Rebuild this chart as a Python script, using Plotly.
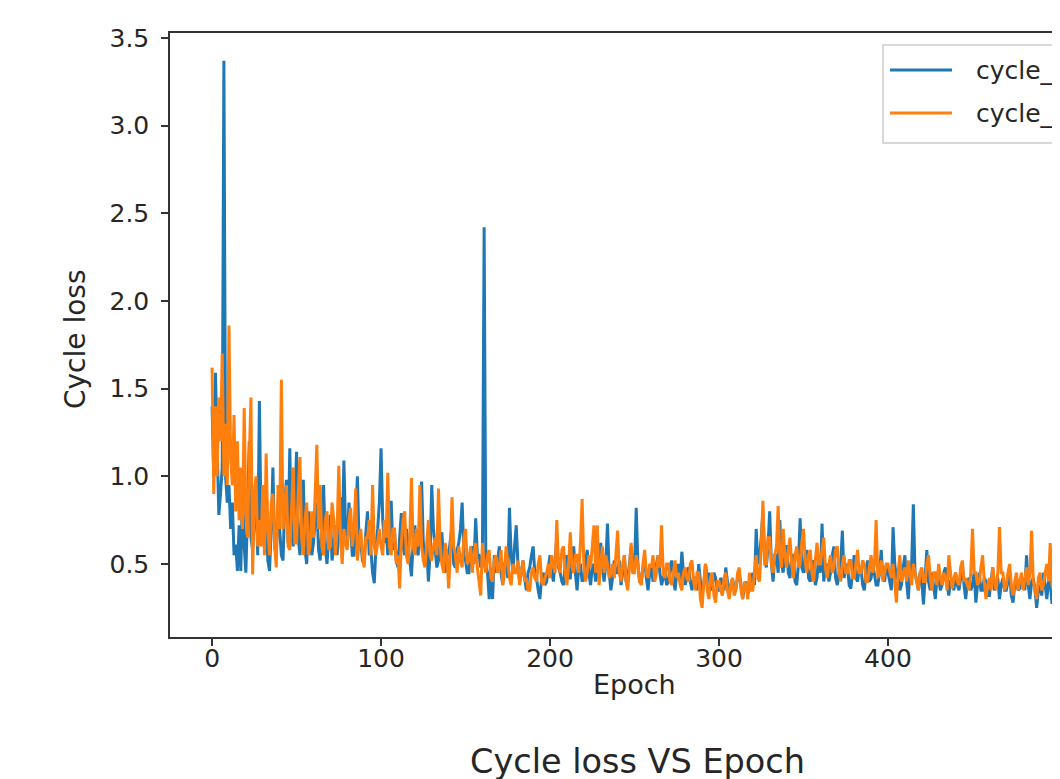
import plotly.graph_objects as go

epochs = list(range(0, 500))

cycle_A = [
    # 0-19
    1.40, 1.00, 1.59, 1.10, 0.78, 0.90, 1.05, 3.37, 1.00, 0.85,
    0.95, 0.70, 0.85, 0.55, 0.61, 0.46, 0.72, 0.46, 0.95, 0.60,
    # 20-39
    0.45, 0.80, 1.20, 0.65, 0.58, 0.75, 0.90, 0.55, 1.43, 0.70,
    0.62, 0.95, 0.80, 0.52, 0.46, 0.70, 1.05, 0.60, 0.55, 0.85,
    # 40-59
    0.70, 0.55, 0.52, 0.85, 0.98, 0.62, 1.16, 0.70, 0.60, 0.85,
    1.14, 0.65, 0.55, 0.78, 0.98, 0.58, 0.50, 0.80, 0.72, 0.55,
    # 60-79
    0.62, 0.75, 0.85, 0.58, 0.52, 0.70, 0.95, 0.60, 0.50, 0.65,
    0.78, 0.52, 0.60, 0.72, 0.55, 0.68, 0.88, 0.60, 1.09, 0.70,
    # 80-99
    0.60, 0.85, 0.72, 0.55, 0.55, 0.78, 1.00, 0.62, 0.62, 0.52,
    0.50, 0.68, 0.80, 0.55, 0.58, 0.45, 0.39, 0.60, 0.70, 0.85,
    # 100-119
    1.16, 0.75, 0.62, 0.70, 0.55, 0.65, 0.86, 0.58, 0.68, 0.52,
    0.48, 0.65, 0.79, 0.60, 0.55, 0.70, 0.60, 0.50, 0.43, 0.62,
    # 120-139
    0.72, 0.58, 0.55, 0.75, 0.97, 0.62, 0.50, 0.60, 0.40, 0.55,
    0.95, 0.70, 0.60, 0.48, 0.52, 0.65, 0.68, 0.50, 0.45, 0.58,
    # 140-159
    0.55, 0.62, 0.72, 0.50, 0.48, 0.58, 0.62, 0.70, 0.85, 0.55,
    0.52, 0.45, 0.45, 0.58, 0.60, 0.50, 0.76, 0.55, 0.55, 0.48,
    # 160-179
    0.55, 2.42, 0.50, 0.45, 0.30, 0.48, 0.30, 0.55, 0.45, 0.52,
    0.60, 0.45, 0.38, 0.50, 0.50, 0.42, 0.82, 0.55, 0.45, 0.60,
    # 180-199
    0.72, 0.50, 0.40, 0.45, 0.52, 0.42, 0.35, 0.45, 0.48, 0.55,
    0.60, 0.45, 0.42, 0.35, 0.30, 0.42, 0.45, 0.38, 0.40, 0.48,
    # 200-219
    0.55, 0.45, 0.40, 0.52, 0.65, 0.48, 0.45, 0.40, 0.38, 0.50,
    0.55, 0.42, 0.42, 0.55, 0.60, 0.45, 0.35, 0.48, 0.50, 0.40,
    # 220-239
    0.42, 0.50, 0.58, 0.45, 0.38, 0.48, 0.50, 0.40, 0.45, 0.55,
    0.62, 0.48, 0.40, 0.50, 0.73, 0.45, 0.35, 0.42, 0.52, 0.45,
    # 240-259
    0.45, 0.52, 0.38, 0.45, 0.55, 0.40, 0.42, 0.50, 0.60, 0.45,
    0.48, 0.82, 0.50, 0.40, 0.40, 0.48, 0.52, 0.42, 0.35, 0.45,
    # 260-279
    0.48, 0.40, 0.42, 0.50, 0.55, 0.45, 0.38, 0.42, 0.45, 0.38,
    0.40, 0.48, 0.52, 0.42, 0.35, 0.45, 0.50, 0.40, 0.57, 0.45,
    # 280-299
    0.38, 0.45, 0.48, 0.40, 0.35, 0.42, 0.42, 0.35, 0.50, 0.40,
    0.32, 0.38, 0.50, 0.42, 0.45, 0.35, 0.38, 0.45, 0.42, 0.35,
    # 300-319
    0.35, 0.42, 0.40, 0.35, 0.48, 0.40, 0.32, 0.38, 0.42, 0.35,
    0.36, 0.42, 0.45, 0.38, 0.30, 0.36, 0.40, 0.33, 0.35, 0.40,
    # 320-339
    0.45, 0.38, 0.70, 0.50, 0.55, 0.65, 0.80, 0.55, 0.48, 0.60,
    0.80, 0.50, 0.40, 0.55, 0.55, 0.45, 0.75, 0.50, 0.45, 0.60,
    # 340-359
    0.60, 0.45, 0.42, 0.55, 0.55, 0.40, 0.38, 0.50, 0.76, 0.48,
    0.45, 0.55, 0.58, 0.42, 0.40, 0.50, 0.52, 0.38, 0.42, 0.55,
    # 360-379
    0.45, 0.73, 0.40, 0.48, 0.50, 0.40, 0.45, 0.55, 0.60, 0.42,
    0.38, 0.45, 0.50, 0.69, 0.42, 0.48, 0.50, 0.38, 0.36, 0.45,
    # 380-399
    0.55, 0.42, 0.40, 0.48, 0.48, 0.38, 0.35, 0.45, 0.52, 0.40,
    0.42, 0.50, 0.45, 0.38, 0.38, 0.45, 0.58, 0.42, 0.40, 0.50,
    # 400-419
    0.45, 0.40, 0.35, 0.71, 0.50, 0.42, 0.42, 0.35, 0.38, 0.48,
    0.55, 0.40, 0.30, 0.45, 0.50, 0.84, 0.45, 0.40, 0.35, 0.45,
    # 420-439
    0.40, 0.27, 0.45, 0.58, 0.40, 0.35, 0.45, 0.38, 0.30, 0.42,
    0.42, 0.35, 0.38, 0.45, 0.48, 0.38, 0.32, 0.40, 0.40, 0.35,
    # 440-459
    0.45, 0.38, 0.35, 0.42, 0.50, 0.38, 0.30, 0.40, 0.42, 0.35,
    0.38, 0.45, 0.28, 0.38, 0.45, 0.35, 0.35, 0.42, 0.40, 0.32,
    # 460-479
    0.32, 0.40, 0.48, 0.35, 0.38, 0.42, 0.30, 0.38, 0.42, 0.35,
    0.35, 0.40, 0.45, 0.32, 0.28, 0.38, 0.40, 0.35, 0.36, 0.42,
    # 480-499
    0.40, 0.35, 0.55, 0.38, 0.30, 0.40, 0.42, 0.35, 0.25, 0.35,
    0.38, 0.32, 0.45, 0.38, 0.30, 0.40, 0.40, 0.28, 0.28, 0.35,
]

cycle_B = [
    # 0-19
    1.62, 0.90, 1.40, 1.00, 1.45, 1.20, 1.70, 1.00, 1.30, 0.95,
    1.86, 1.10, 0.95, 1.35, 0.80, 1.20, 0.75, 1.05, 0.70, 1.39,
    # 20-39
    0.80, 0.65, 1.10, 1.45, 0.44, 0.90, 1.00, 0.60, 0.75, 0.60,
    0.95, 0.55, 1.13, 0.70, 0.55, 0.85, 0.90, 0.60, 0.48, 0.95,
    # 40-59
    0.70, 1.55, 0.70, 0.85, 0.95, 0.60, 0.58, 0.80, 1.05, 0.62,
    0.62, 0.90, 1.11, 0.65, 0.55, 0.75, 0.85, 0.55, 0.60, 0.80,
    # 60-79
    0.65, 0.90, 1.18, 0.70, 0.95, 0.60, 0.55, 0.75, 0.80, 0.58,
    0.60, 0.85, 0.75, 0.55, 0.70, 1.06, 0.65, 0.50, 0.70, 0.62,
    # 80-99
    0.58, 0.75, 0.82, 0.60, 0.70, 0.93, 0.52, 0.62, 0.70, 0.55,
    0.48, 0.65, 0.65, 0.75, 0.55, 0.95, 0.60, 0.55, 0.62, 0.70,
    # 100-119
    0.60, 0.55, 0.75, 0.65, 1.02, 0.60, 0.55, 0.70, 0.70, 0.50,
    0.55, 0.36, 0.62, 0.75, 0.80, 0.55, 0.50, 0.65, 0.99, 0.60,
    # 120-139
    0.55, 0.70, 0.60, 0.95, 0.60, 0.52, 0.48, 0.65, 0.75, 0.55,
    0.52, 0.60, 0.65, 0.55, 0.93, 0.60, 0.50, 0.45, 0.62, 0.55,
    # 140-159
    0.36, 0.55, 0.88, 0.60, 0.55, 0.45, 0.60, 0.52, 0.48, 0.65,
    0.70, 0.50, 0.52, 0.60, 0.45, 0.55, 0.62, 0.48, 0.40, 0.32,
    # 160-179
    0.62, 0.50, 0.45, 0.55, 0.58, 0.42, 0.40, 0.52, 0.55, 0.45,
    0.48, 0.58, 0.38, 0.45, 0.60, 0.50, 0.42, 0.38, 0.50, 0.45,
    # 180-199
    0.45, 0.52, 0.38, 0.45, 0.52, 0.40, 0.42, 0.35, 0.35, 0.45,
    0.48, 0.42, 0.40, 0.50, 0.55, 0.40, 0.38, 0.42, 0.45, 0.50,
    # 200-219
    0.42, 0.55, 0.50, 0.45, 0.75, 0.50, 0.45, 0.58, 0.60, 0.45,
    0.38, 0.50, 0.68, 0.48, 0.45, 0.55, 0.55, 0.45, 0.62, 0.87,
    # 220-239
    0.50, 0.40, 0.45, 0.55, 0.48, 0.58, 0.72, 0.45, 0.72, 0.38,
    0.50, 0.60, 0.45, 0.55, 0.50, 0.42, 0.45, 0.50, 0.42, 0.55,
    # 240-259
    0.69, 0.45, 0.40, 0.50, 0.55, 0.40, 0.35, 0.48, 0.62, 0.45,
    0.45, 0.55, 0.50, 0.40, 0.38, 0.50, 0.58, 0.45, 0.42, 0.50,
    # 260-279
    0.48, 0.55, 0.40, 0.45, 0.55, 0.48, 0.72, 0.45, 0.42, 0.50,
    0.50, 0.40, 0.38, 0.45, 0.52, 0.42, 0.45, 0.38, 0.35, 0.45,
    # 280-299
    0.48, 0.42, 0.40, 0.50, 0.52, 0.40, 0.35, 0.45, 0.45, 0.30,
    0.25, 0.40, 0.50, 0.35, 0.30, 0.42, 0.45, 0.32, 0.28, 0.40,
    # 300-319
    0.40, 0.35, 0.32, 0.42, 0.45, 0.35, 0.30, 0.38, 0.42, 0.32,
    0.35, 0.45, 0.48, 0.35, 0.30, 0.40, 0.38, 0.30, 0.45, 0.35,
    # 320-339
    0.35, 0.45, 0.55, 0.42, 0.40, 0.60, 0.86, 0.50, 0.50, 0.65,
    0.65, 0.50, 0.45, 0.55, 0.60, 0.83, 0.55, 0.48, 0.70, 0.55,
    # 340-359
    0.48, 0.58, 0.65, 0.50, 0.42, 0.55, 0.60, 0.48, 0.50, 0.62,
    0.70, 0.52, 0.45, 0.55, 0.58, 0.45, 0.40, 0.52, 0.62, 0.50,
    # 360-379
    0.50, 0.58, 0.65, 0.48, 0.42, 0.50, 0.55, 0.45, 0.48, 0.58,
    0.60, 0.45, 0.40, 0.50, 0.55, 0.45, 0.45, 0.52, 0.52, 0.42,
    # 380-399
    0.42, 0.50, 0.58, 0.45, 0.45, 0.52, 0.50, 0.40, 0.40, 0.48,
    0.55, 0.45, 0.50, 0.75, 0.42, 0.45, 0.52, 0.40, 0.45, 0.50,
    # 400-419
    0.50, 0.45, 0.42, 0.50, 0.38, 0.28, 0.45, 0.55, 0.40, 0.45,
    0.48, 0.40, 0.52, 0.45, 0.38, 0.50, 0.45, 0.38, 0.35, 0.45,
    # 420-439
    0.48, 0.40, 0.40, 0.50, 0.55, 0.42, 0.35, 0.45, 0.45, 0.38,
    0.50, 0.42, 0.38, 0.45, 0.42, 0.35, 0.55, 0.45, 0.36, 0.42,
    # 440-459
    0.45, 0.40, 0.38, 0.48, 0.52, 0.40, 0.42, 0.38, 0.35, 0.45,
    0.70, 0.45, 0.45, 0.38, 0.40, 0.48, 0.55, 0.40, 0.30, 0.38,
    # 460-479
    0.42, 0.35, 0.48, 0.40, 0.35, 0.45, 0.71, 0.45, 0.45, 0.35,
    0.38, 0.45, 0.50, 0.38, 0.32, 0.40, 0.45, 0.35, 0.40, 0.45,
    # 480-499
    0.35, 0.42, 0.48, 0.38, 0.45, 0.69, 0.40, 0.35, 0.30, 0.42,
    0.45, 0.35, 0.38, 0.45, 0.50, 0.40, 0.62, 0.38, 0.35, 0.40,
]

series_names = ["cycle_A_loss", "cycle_B_loss"]
x_ticks = [0, 100, 200, 300, 400, 500]
y_ticks = [0.5, 1.0, 1.5, 2.0, 2.5, 3.0, 3.5]
blue = "#1f77b4"
orange = "#ff7f0e"

FONT = "DejaVu Sans"
TXT = "#262626"
AX = "#333333"

fig = go.Figure()
fig.add_trace(go.Scatter(x=epochs, y=cycle_A, mode="lines", name=series_names[0],
                         line=dict(color=blue, width=3), showlegend=False))
fig.add_trace(go.Scatter(x=epochs, y=cycle_B, mode="lines", name=series_names[1],
                         line=dict(color=orange, width=3), showlegend=False))

# The page body has an 8px margin; the figure is sized so the plot area
# lands at page pixels x 170..(right edge), y 33..637.
OFF = 8
W, H = 1060 - OFF, 779 - OFF
L, T, B, R = 170 - OFF, 33 - OFF, 779 - 637, 0
pw = W - L - R
ph = H - T - B


def px_x(p):
    return (p - OFF - L) / pw


def px_y(p):
    return (H - B - (p - OFF)) / ph


fig.update_layout(
    width=W, height=H,
    margin=dict(l=L, r=R, t=T, b=B, pad=0),
    paper_bgcolor="white", plot_bgcolor="white",
    font=dict(family=FONT, color=TXT, size=25),
    xaxis=dict(range=[-24.9, 501.8], tickvals=x_ticks, ticktext=[str(v) for v in x_ticks],
               showgrid=False, zeroline=False, showline=True, linecolor=AX, linewidth=1.5,
               mirror=True, ticks="outside", ticklen=7, tickwidth=1.5, tickcolor=AX,
               ticklabelstandoff=-9,
               tickfont=dict(size=25, family=FONT, color=TXT)),
    yaxis=dict(range=[0.0836, 3.5285], tickvals=y_ticks, ticktext=[f"{v:.1f}" for v in y_ticks],
               showgrid=False, zeroline=False, showline=True, linecolor=AX, linewidth=1.5,
               mirror=False, ticks="outside", ticklen=7, tickwidth=1.5, tickcolor=AX,
               ticklabelstandoff=7,
               tickfont=dict(size=25, family=FONT, color=TXT)),
)

annotations = [
    dict(text="Epoch", x=px_x(634), y=px_y(684), xref="paper", yref="paper",
         xanchor="center", yanchor="middle", showarrow=False, font=dict(size=27, family=FONT, color=TXT)),
    dict(text="Cycle loss", x=px_x(75), y=px_y(339), xref="paper", yref="paper", textangle=-90,
         xanchor="center", yanchor="middle", showarrow=False, font=dict(size=28, family=FONT, color=TXT)),
    dict(text="Cycle loss VS Epoch", x=px_x(637), y=px_y(761), xref="paper", yref="paper",
         xanchor="center", yanchor="middle", showarrow=False, font=dict(size=33.5, family=FONT, color=TXT)),
]

# Legend (cropped at the right edge like the reference)
shapes = [
    dict(type="rect", xref="paper", yref="paper", x0=px_x(883), x1=px_x(1200), y0=px_y(143), y1=px_y(45),
         line=dict(color="#cccccc", width=1.5), fillcolor="rgba(255,255,255,0.85)", layer="above"),
]
legend_rows = [(series_names[0], blue, 70), (series_names[1], orange, 113)]
for name, col, py in legend_rows:
    shapes.append(dict(type="line", xref="paper", yref="paper", x0=px_x(890), x1=px_x(952),
                       y0=px_y(py), y1=px_y(py), line=dict(color=col, width=3), layer="above"))
    annotations.append(dict(text=name, x=px_x(974), y=px_y(py), xref="paper", yref="paper",
                            xanchor="left", yanchor="middle", showarrow=False,
                            font=dict(size=25, family=FONT, color=TXT)))

fig.update_layout(annotations=annotations, shapes=shapes)
fig.write_html("out.html", config={"displayModeBar": False})
